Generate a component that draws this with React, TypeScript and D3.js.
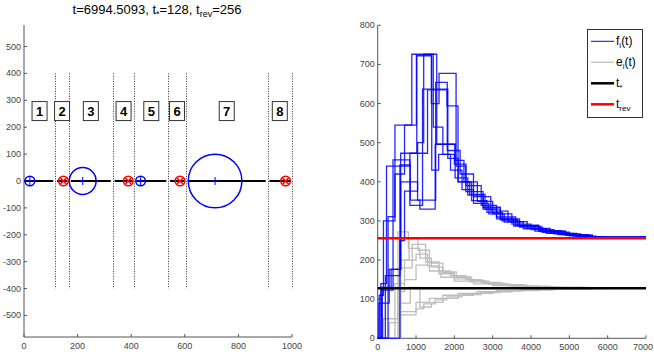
import React from 'react'
import { scaleLinear, line, curveStepAfter, range } from 'd3'

// left panel: cell boundaries, labels, particles
const bounds = [0, 116, 168, 331, 412, 538, 604, 909, 1000]
const dividers = [116, 168, 331, 412, 538, 604, 909, 1000]
const cellLabels = ['1', '2', '3', '4', '5', '6', '7', '8']
const blueDots = [[22, 18], [219, 50], [435, 18], [713, 100]]
const redDots = [147, 389, 582, 976]

// right panel: step series [t, value]
const fSeries = [
  [[0, 0], [40, 110], [150, 300], [450, 545], [890, 726], [1540, 496], [2020, 410], [2350, 366], [2750, 330], [3100, 305], [3550, 287], [4100, 274], [4700, 265], [5300, 260], [5900, 256]],
  [[0, 0], [80, 140], [230, 440], [840, 473], [1020, 722], [1410, 430], [1590, 470], [1900, 430], [2200, 380], [2500, 345], [2900, 318], [3300, 297], [3800, 280], [4400, 268], [5100, 261], [5700, 257]],
  [[0, 0], [120, 123], [400, 456], [840, 340], [1170, 637], [1830, 460], [2100, 400], [2450, 352], [2850, 322], [3250, 300], [3700, 284], [4300, 271], [5000, 262], [5600, 257]],
  [[0, 0], [30, 90], [300, 176], [600, 400], [1040, 353], [1513, 654], [1815, 480], [2150, 420], [2500, 362], [2950, 325], [3400, 298], [3900, 281], [4500, 268], [5200, 260], [5800, 256]],
  [[0, 0], [270, 311], [450, 420], [700, 545], [1010, 724], [1400, 600], [1600, 677], [2045, 440], [2300, 375], [2750, 335], [3200, 305], [3700, 286], [4250, 273], [4900, 263], [5500, 258]],
  [[0, 0], [200, 160], [580, 443], [850, 353], [1100, 330], [1500, 496], [2017, 455], [2250, 400], [2600, 350], [3000, 318], [3500, 292], [4000, 278], [4600, 267], [5300, 260]],
  [[0, 0], [100, 130], [350, 176], [600, 473], [1300, 635], [1808, 594], [2095, 400], [2400, 368], [2800, 330], [3200, 303], [3650, 288], [4200, 275], [4800, 265], [5500, 258]],
  [[0, 0], [580, 250], [700, 376], [1040, 500], [1200, 726], [1450, 540], [1700, 470], [2000, 445], [2300, 390], [2700, 340], [3100, 310], [3600, 289], [4200, 274], [4900, 264], [5600, 258]],
]
const eSeries = [
  [[0, 0], [530, 272], [800, 230], [1100, 205], [1400, 182], [1700, 168], [2000, 157], [2400, 148], [2800, 141], [3300, 136], [3900, 132], [4600, 130], [5500, 128]],
  [[0, 0], [300, 40], [550, 180], [900, 240], [1250, 195], [1600, 172], [1900, 160], [2300, 150], [2700, 143], [3200, 137], [3800, 133], [4500, 130], [5400, 128]],
  [[0, 0], [560, 60], [1000, 92], [1350, 102], [1700, 110], [2100, 115], [2600, 119], [3100, 122], [3700, 124], [4500, 126], [5500, 128]],
  [[0, 0], [450, 140], [700, 200], [1000, 215], [1300, 185], [1600, 165], [2000, 152], [2400, 144], [2900, 138], [3500, 133], [4200, 130], [5000, 128]],
  [[0, 0], [540, 68], [1000, 75], [1200, 88], [1500, 98], [1800, 106], [2200, 112], [2700, 117], [3200, 121], [3800, 124], [4600, 126], [5600, 128]],
  [[0, 0], [150, 50], [520, 120], [700, 150], [1000, 187], [1350, 172], [1650, 156], [2000, 146], [2500, 139], [3000, 135], [3600, 131], [4400, 129], [5300, 128]],
  [[0, 0], [560, 90], [850, 130], [1100, 80], [1400, 92], [1700, 102], [2100, 110], [2500, 115], [3000, 119], [3500, 122], [4200, 125], [5000, 127], [6000, 128]],
  [[0, 0], [600, 200], [820, 255], [1050, 225], [1350, 192], [1700, 170], [2050, 156], [2450, 146], [2900, 139], [3400, 134], [4000, 131], [4800, 128]],
]
const tStar = 128
const tRev = 256
const tEnd = 7000

const W = 654, H = 360
const font = '"Liberation Sans", Arial, sans-serif'
const axisCol = '#555'
const textCol = '#444'

const App = () => {
  // left
  const lx = scaleLinear().domain([0, 1000]).range([24, 292])
  const ly = scaleLinear().domain([-580, 580]).range([337, 25])
  // right
  const rx = scaleLinear().domain([0, 7000]).range([377.7, 646])
  const ry = scaleLinear().domain([0, 800]).range([338.3, 25.3])

  const step = line().x(d => rx(d[0])).y(d => ry(d[1])).curve(curveStepAfter)
  const withEnd = s => [...s, [tEnd, s[s.length - 1][1]]]

  const rad = r => lx(r) - lx(0)

  return (
    <svg width={W} height={H} style={{ position: 'absolute', left: 0, top: 0, background: '#fff' }} fontFamily={font}>
      <rect width={W} height={H} fill='#fff' />
      {/* title */}
      <text x={157} y={14} textAnchor='middle' fontSize={13} fill='#000'>
        t=6994.5093, t<tspan fontSize={9} dy={3}>*</tspan><tspan dy={-3}>=128, t</tspan><tspan fontSize={9} dy={3}>rev</tspan><tspan dy={-3}>=256</tspan>
      </text>

      {/* left axes */}
      <line x1={lx(0)} x2={lx(0)} y1={ly(-580)} y2={ly(580)} stroke={axisCol} />
      <line x1={lx(0)} x2={lx(1000)} y1={ly(-580)} y2={ly(-580)} stroke={axisCol} />
      {range(-500, 501, 100).map(v => (
        <g key={'ly' + v}>
          <line x1={lx(0)} x2={lx(0) + 3} y1={ly(v)} y2={ly(v)} stroke={axisCol} />
          <text x={lx(0) - 3} y={ly(v) + 3} textAnchor='end' fontSize={9} fill={textCol}>{v}</text>
        </g>
      ))}
      {range(0, 1001, 200).map(v => (
        <g key={'lx' + v}>
          <line x1={lx(v)} x2={lx(v)} y1={ly(-580)} y2={ly(-580) - 3} stroke={axisCol} />
          <text x={lx(v)} y={349} textAnchor='middle' fontSize={9} fill={textCol}>{v}</text>
        </g>
      ))}

      {/* dividers */}
      {dividers.map(d => (
        <line key={'d' + d} x1={Math.round(lx(d)) + 0.5} x2={Math.round(lx(d)) + 0.5} y1={ly(400)} y2={ly(-400)} stroke='#333' strokeDasharray='1,1.5' />
      ))}
      {/* zero line per cell */}
      {bounds.slice(0, -1).map((b, i) => (
        <line key={'z' + i} x1={lx(i === 0 ? b : b + 7)} x2={lx(bounds[i + 1] - 7)} y1={ly(0)} y2={ly(0)} stroke='#000' strokeWidth={2} />
      ))}
      {/* cell labels */}
      {cellLabels.map((c, i) => {
        const cx = lx((bounds[i] + bounds[i + 1]) / 2)
        const cy = ly(260)
        return (
          <g key={'c' + c}>
            <rect x={cx - 7.5} y={cy - 9.5} width={15} height={19} fill='#fff' stroke='#333' />
            <text x={cx} y={cy + 5} textAnchor='middle' fontSize={13} fontWeight='bold' fill='#000'>{c}</text>
          </g>
        )
      })}
      {/* particles */}
      {blueDots.map(([x, r]) => (
        <g key={'b' + x} stroke='#0000ff' fill='none' strokeWidth={1.5}>
          <circle cx={lx(x)} cy={ly(0)} r={rad(r)} />
          <line x1={lx(x) - 4} x2={lx(x) + 4} y1={ly(0)} y2={ly(0)} strokeWidth={1} />
          <line x1={lx(x)} x2={lx(x)} y1={ly(0) - 4} y2={ly(0) + 4} strokeWidth={1} />
        </g>
      ))}
      {redDots.map(x => (
        <g key={'r' + x} stroke='#ff0000' fill='none' strokeWidth={1.6}>
          <circle cx={lx(x)} cy={ly(0)} r={4.8} />
          <line x1={lx(x) - 3} x2={lx(x) + 3} y1={ly(0) - 3} y2={ly(0) + 3} />
          <line x1={lx(x) - 3} x2={lx(x) + 3} y1={ly(0) + 3} y2={ly(0) - 3} />
        </g>
      ))}

      {/* right axes */}
      <line x1={rx(0)} x2={rx(0)} y1={ry(0)} y2={ry(800)} stroke={axisCol} />
      <line x1={rx(0)} x2={rx(7000)} y1={ry(0)} y2={ry(0)} stroke={axisCol} />
      {range(0, 801, 100).map(v => (
        <g key={'ry' + v}>
          <line x1={rx(0)} x2={rx(0) + 3} y1={ry(v)} y2={ry(v)} stroke={axisCol} />
          <text x={rx(0) - 3} y={ry(v) + 3} textAnchor='end' fontSize={9} fill={textCol}>{v}</text>
        </g>
      ))}
      {range(0, 7001, 1000).map(v => (
        <g key={'rx' + v}>
          <line x1={rx(v)} x2={rx(v)} y1={ry(0)} y2={ry(0) - 3} stroke={axisCol} />
          <text x={v === 7000 ? W - 1 : rx(v)} y={350} textAnchor={v === 7000 ? 'end' : 'middle'} fontSize={9} fill={textCol}>{v}</text>
        </g>
      ))}

      {eSeries.map((s, i) => (
        <path key={'e' + i} d={step(withEnd(s))} fill='none' stroke='#bdbdbd' strokeWidth={1.3} />
      ))}
      {fSeries.map((s, i) => (
        <path key={'f' + i} d={step(withEnd(s))} fill='none' stroke='#0000ff' strokeWidth={1.3} strokeOpacity={0.85} />
      ))}
      <line x1={rx(0)} x2={rx(tEnd)} y1={ry(tStar)} y2={ry(tStar)} stroke='#000' strokeWidth={2.5} />
      <line x1={rx(0)} x2={rx(tEnd)} y1={ry(tRev)} y2={ry(tRev)} stroke='#ff0000' strokeWidth={2.5} />

      {/* legend */}
      <rect x={587.5} y={29.5} width={55} height={88} fill='#fff' stroke='#333' />
      {[
        { c: '#0000ff', w: 1, t: 'f', s: 'i', a: '(t)' },
        { c: '#c8c8c8', w: 1.5, t: 'e', s: 'i', a: '(t)' },
        { c: '#000', w: 2.5, t: 't', s: '*', a: '' },
        { c: '#ff0000', w: 2.5, t: 't', s: 'rev', a: '' },
      ].map((e, i) => {
        const yy = 41.3 + i * 21
        return (
          <g key={'lg' + i}>
            <line x1={591} x2={614} y1={yy} y2={yy} stroke={e.c} strokeWidth={e.w} />
            <text x={616} y={yy + 4} fontSize={12} fill='#000'>
              {e.t}<tspan fontSize={8} dy={3}>{e.s}</tspan>{e.a && <tspan dy={-3}>{e.a}</tspan>}
            </text>
          </g>
        )
      })}
    </svg>
  )
}

export default App
